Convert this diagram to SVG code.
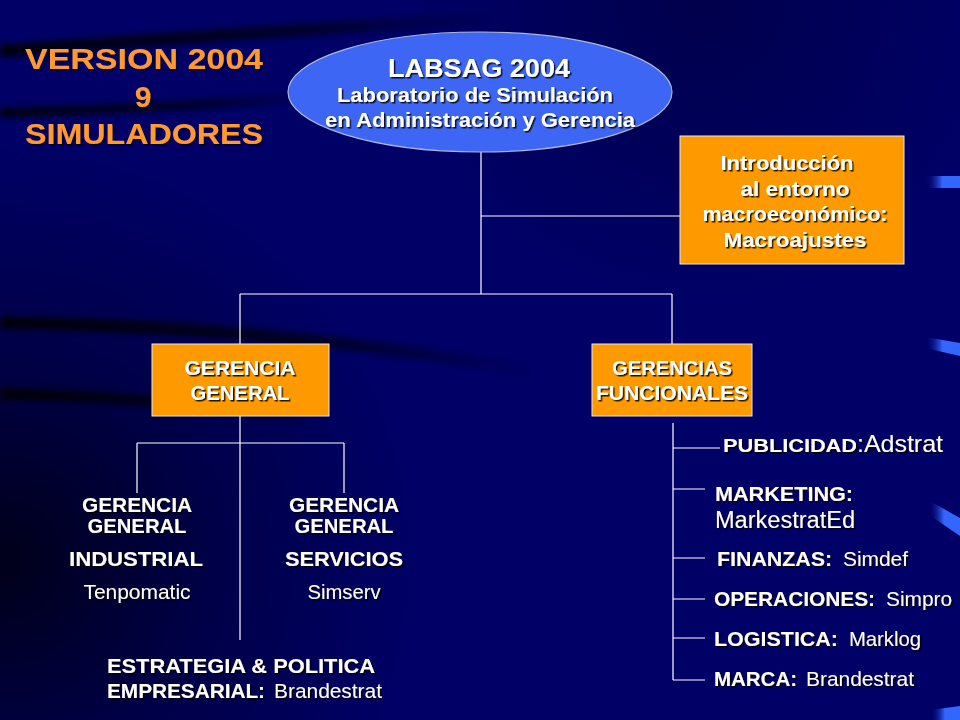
<svg xmlns="http://www.w3.org/2000/svg" width="960" height="720" viewBox="0 0 960 720">
<defs>
<filter id="sh" x="-10%" y="-20%" width="130%" height="150%"><feDropShadow dx="1.5" dy="1.5" stdDeviation="0.5" flood-color="#000000" flood-opacity="0.85"/></filter>
<filter id="bl" x="-20%" y="-100%" width="140%" height="300%"><feGaussianBlur stdDeviation="3"/></filter>
<linearGradient id="bar" x1="0" y1="0" x2="1" y2="0"><stop offset="0" stop-color="#000066" stop-opacity="0"/><stop offset="0.5" stop-color="#3366ff"/><stop offset="1" stop-color="#3366ff"/></linearGradient>
<linearGradient id="fade" x1="0" y1="0" x2="1" y2="0"><stop offset="0" stop-color="#000000" stop-opacity="0.9"/><stop offset="0.6" stop-color="#000000" stop-opacity="0.6"/><stop offset="1" stop-color="#000000" stop-opacity="0"/></linearGradient>
<radialGradient id="dk" gradientUnits="userSpaceOnUse" cx="0" cy="560" r="420"><stop offset="0" stop-color="#000000" stop-opacity="0.75"/><stop offset="0.5" stop-color="#000000" stop-opacity="0.3"/><stop offset="1" stop-color="#000000" stop-opacity="0"/></radialGradient>
<radialGradient id="tp" gradientUnits="userSpaceOnUse" cx="700" cy="0" r="300"><stop offset="0" stop-color="#000033" stop-opacity="0.5"/><stop offset="1" stop-color="#000033" stop-opacity="0"/></radialGradient>
</defs>
<style>
.b{font-family:"Liberation Sans",Arial,sans-serif;font-weight:bold;fill:#ffffff}
.r{font-family:"Liberation Sans",Arial,sans-serif;font-weight:normal;fill:#ffffff}
.o{font-family:"Liberation Sans",Arial,sans-serif;font-weight:bold;fill:#ff9933}
.box{fill:#ff9900;stroke:#e8e8e8;stroke-width:1}
.ln{stroke:#ffffff;stroke-width:1.2;fill:none}
.sw{fill:none;stroke:url(#fade);filter:url(#bl)}
</style>
<rect width="960" height="720" fill="#000066"/>
<g id="background">
<rect width="960" height="720" fill="url(#dk)"/>
<rect width="960" height="720" fill="url(#tp)"/>
<path class="sw" d="M0,51 C150,40 320,28 500,18" stroke-width="12"/>
<path class="sw" d="M0,113 C110,110 220,104 330,96" stroke-width="9"/>
<path class="sw" d="M0,323 C160,325 330,336 540,372" stroke-width="12"/>
<path class="sw" d="M0,394 C110,396 220,404 330,424" stroke-width="11"/>
<path d="M925,176 L960,176 L960,188 L925,188 Z" fill="url(#bar)"/>
<path d="M925,337 L960,343 L960,356 L925,348 Z" fill="url(#bar)"/>
<path d="M928,500 L960,518 L960,536 L928,514 Z" fill="url(#bar)"/>
<path d="M930,710 L960,706 L960,720 L930,720 Z" fill="url(#bar)"/>
</g>
<g id="title">
<text class="o" x="144" y="69" font-size="30" text-anchor="middle" textLength="238" lengthAdjust="spacingAndGlyphs" filter="url(#sh)">VERSION 2004</text>
<text class="o" x="143" y="107" font-size="30" text-anchor="middle" filter="url(#sh)">9</text>
<text class="o" x="144" y="144" font-size="30" text-anchor="middle" textLength="238" lengthAdjust="spacingAndGlyphs" filter="url(#sh)">SIMULADORES</text>
</g>
<g id="connectors">
<path class="ln" d="M481,152 V294 M481,216 H680 M240,294 H672 M240,294 V344 M672,294 V344"/>
<path class="ln" d="M240,416 V640 M137,443 H344 M137,443 V493 M344,443 V493"/>
<path class="ln" d="M673,423 V680 M673,448 H720 M673,489 H705 M673,558 H705 M673,599 H705 M673,638 H705 M673,680 H705"/>
</g>
<g id="labsag">
<ellipse cx="480" cy="92" rx="192" ry="60" fill="#3d66f5" stroke="#b0b8d8" stroke-width="1.2"/>
<text class="b" x="479" y="77" font-size="26" text-anchor="middle" textLength="182" lengthAdjust="spacingAndGlyphs" filter="url(#sh)">LABSAG 2004</text>
<text class="b" x="475" y="102" font-size="20" text-anchor="middle" textLength="276" lengthAdjust="spacingAndGlyphs" filter="url(#sh)">Laboratorio de Simulación</text>
<text class="b" x="480" y="127" font-size="20" text-anchor="middle" textLength="310" lengthAdjust="spacingAndGlyphs" filter="url(#sh)">en Administración  y Gerencia</text>
</g>
<g id="intro">
<rect class="box" x="680" y="136" width="224" height="128"/>
<text class="b" x="787" y="170" font-size="20" text-anchor="middle" textLength="133" lengthAdjust="spacingAndGlyphs" filter="url(#sh)">Introducción</text>
<text class="b" x="795" y="196" font-size="20" text-anchor="middle" textLength="109" lengthAdjust="spacingAndGlyphs" filter="url(#sh)">al entorno</text>
<text class="b" x="795" y="221" font-size="20" text-anchor="middle" textLength="185" lengthAdjust="spacingAndGlyphs" filter="url(#sh)">macroeconómico:</text>
<text class="b" x="795" y="247" font-size="20" text-anchor="middle" textLength="143" lengthAdjust="spacingAndGlyphs" filter="url(#sh)">Macroajustes</text>
</g>
<g id="gerencia-general">
<rect class="box" x="152" y="344" width="177" height="72"/>
<text class="b" x="240" y="375" font-size="21" text-anchor="middle" textLength="111" lengthAdjust="spacingAndGlyphs" filter="url(#sh)">GERENCIA</text>
<text class="b" x="240" y="400" font-size="21" text-anchor="middle" textLength="99" lengthAdjust="spacingAndGlyphs" filter="url(#sh)">GENERAL</text>
</g>
<g id="gerencias-funcionales">
<rect class="box" x="592" y="344" width="160" height="72"/>
<text class="b" x="672" y="375" font-size="21" text-anchor="middle" textLength="120" lengthAdjust="spacingAndGlyphs" filter="url(#sh)">GERENCIAS</text>
<text class="b" x="672" y="400" font-size="21" text-anchor="middle" textLength="152" lengthAdjust="spacingAndGlyphs" filter="url(#sh)">FUNCIONALES</text>
</g>
<g id="gg-industrial">
<text class="b" x="137" y="512" font-size="21" text-anchor="middle" textLength="110" lengthAdjust="spacingAndGlyphs" filter="url(#sh)">GERENCIA</text>
<text class="b" x="137" y="533" font-size="21" text-anchor="middle" textLength="99" lengthAdjust="spacingAndGlyphs" filter="url(#sh)">GENERAL</text>
<text class="b" x="136" y="566" font-size="21" text-anchor="middle" textLength="134" lengthAdjust="spacingAndGlyphs" filter="url(#sh)">INDUSTRIAL</text>
<text class="r" x="137" y="599" font-size="21" text-anchor="middle" textLength="107" lengthAdjust="spacingAndGlyphs" filter="url(#sh)">Tenpomatic</text>
</g>
<g id="gg-servicios">
<text class="b" x="344" y="512" font-size="21" text-anchor="middle" textLength="110" lengthAdjust="spacingAndGlyphs" filter="url(#sh)">GERENCIA</text>
<text class="b" x="344" y="533" font-size="21" text-anchor="middle" textLength="99" lengthAdjust="spacingAndGlyphs" filter="url(#sh)">GENERAL</text>
<text class="b" x="344" y="566" font-size="21" text-anchor="middle" textLength="118" lengthAdjust="spacingAndGlyphs" filter="url(#sh)">SERVICIOS</text>
<text class="r" x="344" y="599" font-size="21" text-anchor="middle" textLength="73" lengthAdjust="spacingAndGlyphs" filter="url(#sh)">Simserv</text>
</g>
<g id="estrategia">
<text class="b" x="107" y="673" font-size="21" textLength="268" lengthAdjust="spacingAndGlyphs" filter="url(#sh)">ESTRATEGIA &amp; POLITICA</text>
<text class="b" x="107" y="698" font-size="21" textLength="158" lengthAdjust="spacingAndGlyphs" filter="url(#sh)">EMPRESARIAL:</text>
<text class="r" x="274" y="698" font-size="21" textLength="108" lengthAdjust="spacingAndGlyphs" filter="url(#sh)">Brandestrat</text>
</g>
<g id="publicidad">
<text class="b" x="723" y="452" font-size="19" textLength="134" lengthAdjust="spacingAndGlyphs" filter="url(#sh)">PUBLICIDAD</text>
<text class="r" x="857" y="452" font-size="24" textLength="86" lengthAdjust="spacingAndGlyphs" filter="url(#sh)">:Adstrat</text>
</g>
<g id="marketing">
<text class="b" x="715" y="501" font-size="20" textLength="138" lengthAdjust="spacingAndGlyphs" filter="url(#sh)">MARKETING:</text>
<text class="r" x="715" y="528" font-size="23" textLength="140" lengthAdjust="spacingAndGlyphs" filter="url(#sh)">MarkestratEd</text>
</g>
<g id="finanzas">
<text class="b" x="717" y="566" font-size="20" textLength="115" lengthAdjust="spacingAndGlyphs" filter="url(#sh)">FINANZAS:</text>
<text class="r" x="843" y="566" font-size="21" textLength="65" lengthAdjust="spacingAndGlyphs" filter="url(#sh)">Simdef</text>
</g>
<g id="operaciones">
<text class="b" x="714" y="606" font-size="20" textLength="161" lengthAdjust="spacingAndGlyphs" filter="url(#sh)">OPERACIONES:</text>
<text class="r" x="886" y="606" font-size="21" textLength="66" lengthAdjust="spacingAndGlyphs" filter="url(#sh)">Simpro</text>
</g>
<g id="logistica">
<text class="b" x="714" y="646" font-size="20" textLength="124" lengthAdjust="spacingAndGlyphs" filter="url(#sh)">LOGISTICA:</text>
<text class="r" x="849" y="646" font-size="21" textLength="72" lengthAdjust="spacingAndGlyphs" filter="url(#sh)">Marklog</text>
</g>
<g id="marca">
<text class="b" x="714" y="686" font-size="20" textLength="83" lengthAdjust="spacingAndGlyphs" filter="url(#sh)">MARCA:</text>
<text class="r" x="806" y="686" font-size="21" textLength="108" lengthAdjust="spacingAndGlyphs" filter="url(#sh)">Brandestrat</text>
</g>
</svg>
